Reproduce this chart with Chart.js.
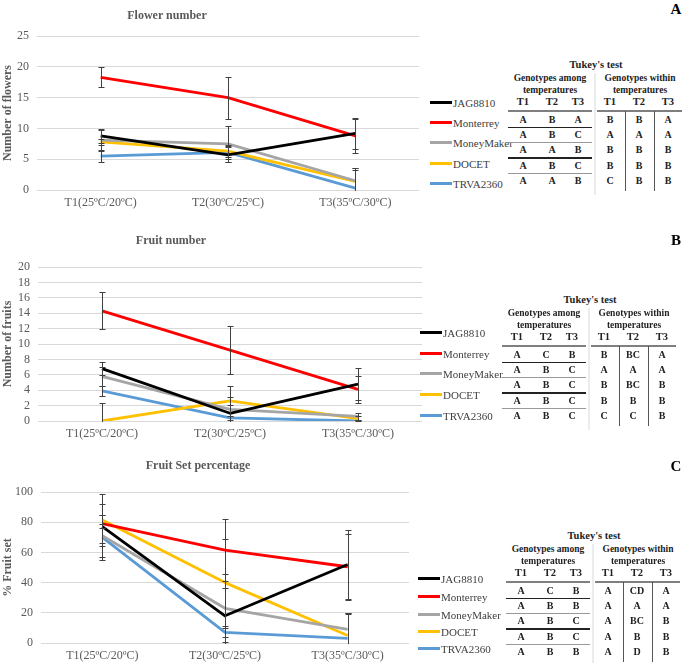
<!DOCTYPE html>
<html>
<head>
<meta charset="utf-8">
<script src="https://cdn.jsdelivr.net/npm/chart.js@4.4.1/dist/chart.umd.min.js"></script>
<style>
  body { margin: 0; background: #fff; width: 685px; height: 663px; position: relative; overflow: hidden; font-family: "Liberation Serif", serif; }
  canvas { position: absolute; left: 0; }
  .t { position: absolute; white-space: nowrap; line-height: 1; }
  .title { font-weight: bold; font-size: 12px; color: #595959; transform: translate(-50%, -50%); }
  .letter { font-weight: bold; font-size: 15px; color: #000; transform: translate(-50%, -50%); }
  .leg { font-size: 11px; color: #404040; transform: translateY(-50%); }
  .cell { font-weight: bold; font-size: 10px; color: #222; transform: translate(-50%, -50%); }
  .hd { font-weight: bold; font-size: 10.5px; color: #222; transform: translate(-50%, -50%); }
  .gh { font-weight: bold; font-size: 9.5px; color: #222; transform: translate(-50%, -50%); }
  .ln { position: absolute; }
</style>
</head>
<body>
<canvas id="flowerChart" width="425" height="215" style="top:0"></canvas>
<canvas id="fruitChart" width="425" height="220" style="top:225px"></canvas>
<canvas id="setChart" width="425" height="218" style="top:445px"></canvas>

<script>
const temps = ["T1(25ºC/20ºC)", "T2(30ºC/25ºC)", "T3(35ºC/30ºC)"];
const genotypes = ["JAG8810", "Monterrey", "MoneyMaker", "DOCET", "TRVA2360"];

// means per genotype (rows) and temperature (columns)
const flowerMeans = [[8.8, 5.7, 9.2], [18.3, 15.0, 8.8], [8.1, 7.5, 1.5], [7.8, 6.3, 1.4], [5.5, 6.1, 0.3]];
const flowerErr = [[1.1, 1.2, 2.5], [1.6, 3.4, 2.8], [1.6, 2.9, 2.0], [0.5, 1.0, 2.1], [0.9, 1.0, 3.0]];

const fruitMeans = [[6.8, 1.0, 4.8], [14.3, 9.2, 4.1], [5.8, 1.5, 0.6], [0.0, 2.6, 0.3], [3.9, 0.4, 0.0]];
const fruitErr = [[0.8, 1.1, 2.1], [2.4, 3.1, 1.7], [1.2, 1.6, 0.5], [2.3, 2.0, 0.3], [0.7, 0.3, 0.1]];

const setMeans = [[77, 18, 52], [79, 61.5, 50.5], [71, 23, 9], [81.5, 40, 5], [70, 7, 3]];
const setErr = [[22, 18.6, 23], [13, 20.5, 22], [14, 22.5, 11], [3, 29, 14], [6, 3, 17]];

// Tukey's test letters (rows = genotypes)
const flowerAmong = [["A", "B", "A"], ["A", "B", "C"], ["A", "A", "B"], ["A", "B", "C"], ["A", "A", "B"]];
const flowerWithin = [["B", "B", "A"], ["A", "A", "A"], ["B", "B", "B"], ["B", "B", "B"], ["C", "B", "B"]];
const fruitAmong = [["A", "C", "B"], ["A", "B", "C"], ["A", "B", "C"], ["A", "B", "C"], ["A", "B", "C"]];
const fruitWithin = [["B", "BC", "A"], ["A", "A", "A"], ["B", "BC", "B"], ["B", "B", "B"], ["C", "C", "B"]];
const setAmong = [["A", "C", "B"], ["A", "B", "B"], ["A", "B", "C"], ["A", "B", "C"], ["A", "B", "B"]];
const setWithin = [["A", "CD", "A"], ["A", "A", "A"], ["A", "BC", "B"], ["A", "B", "B"], ["A", "D", "B"]];

const colors = ["#000000", "#ff0000", "#a5a5a5", "#ffc000", "#5b9bd5"];

// draws the vertical error bars of every point
const errorBars = {
  id: "errorBars",
  afterDatasetsDraw(chart) {
    const { ctx, chartArea: a, scales: { y } } = chart;
    ctx.save();
    ctx.beginPath();
    ctx.rect(a.left, a.top - 1, a.right - a.left, a.bottom - a.top + 2);
    ctx.clip();
    ctx.strokeStyle = "#404040";
    ctx.lineWidth = 1;
    chart.data.datasets.forEach((ds, i) => {
      chart.getDatasetMeta(i).data.forEach((pt, j) => {
        const v = ds.data[j], e = ds.err[j];
        const x = Math.round(pt.x) + 0.5;
        const yt = Math.round(y.getPixelForValue(v + e)) + 0.5;
        const yb = Math.round(y.getPixelForValue(v - e)) + 0.5;
        ctx.beginPath();
        ctx.moveTo(x, yt); ctx.lineTo(x, yb);
        ctx.moveTo(x - 3, yt); ctx.lineTo(x + 3, yt);
        ctx.moveTo(x - 3, yb); ctx.lineTo(x + 3, yb);
        ctx.stroke();
      });
    });
    ctx.restore();
  }
};

function renderChart(id, means, errs, yMax, yStep, yTitle, pad, yWidth, xHeight) {
  new Chart(document.getElementById(id), {
    type: "line",
    data: {
      labels: temps,
      datasets: genotypes.map((g, i) => ({
        label: g,
        data: means[i],
        err: errs[i],
        borderColor: colors[i],
        backgroundColor: colors[i],
        borderWidth: 2.8,
        borderJoinStyle: "round",
        pointRadius: 0,
        tension: 0
      }))
    },
    options: {
      responsive: false,
      animation: false,
      devicePixelRatio: 1,
      layout: { padding: pad },
      plugins: { legend: { display: false }, tooltip: { enabled: false } },
      scales: {
        x: {
          offset: true,
          grid: { display: false, drawTicks: false },
          border: { display: false },
          ticks: { color: "#595959", font: { family: "Liberation Serif", size: 12 }, padding: 6, maxRotation: 0 },
          afterFit: s => { s.height = xHeight; }
        },
        y: {
          min: 0,
          max: yMax,
          ticks: { stepSize: yStep, autoSkip: false, color: "#595959", font: { family: "Liberation Serif", size: 12 }, padding: 8 },
          grid: { color: "#d9d9d9", drawTicks: false },
          border: { display: false },
          title: { display: true, text: yTitle, color: "#595959", font: { family: "Liberation Serif", size: 12, weight: "bold" }, padding: 1 },
          afterFit: s => { s.width = yWidth; }
        }
      }
    },
    plugins: [errorBars]
  });
}

renderChart("flowerChart", flowerMeans, flowerErr, 25, 5, "Number of flowers", { top: 36, right: 6, bottom: 0, left: 0 }, 37, 25);
renderChart("fruitChart", fruitMeans, fruitErr, 20, 2, "Number of fruits", { top: 42, right: 3, bottom: 0, left: 0 }, 38, 24);
renderChart("setChart", setMeans, setErr, 100, 20, "% Fruit set", { top: 47, right: 16, bottom: 0, left: 0 }, 41, 20);

function addText(cls, text, x, y) {
  const d = document.createElement("div");
  d.className = "t " + cls;
  d.textContent = text;
  d.style.left = x + "px";
  d.style.top = y + "px";
  document.body.appendChild(d);
}
function addLine(x, y, w, h, color) {
  const d = document.createElement("div");
  d.className = "ln";
  Object.assign(d.style, { left: x + "px", top: y + "px", width: w + "px", height: h + "px", background: color });
  document.body.appendChild(d);
}

function addLegend(x, ys) {
  genotypes.forEach((g, i) => {
    addLine(x, ys[i] - 1.5, 22, 3, colors[i]);
    addText("leg", g, x + 23, ys[i] + 1);
  });
}

function addTable(ox, oy, among, within) {
  addText("hd", "Tukey's test", ox + 1, oy);
  addText("gh", "Genotypes among", ox - 45, oy + 14);
  addText("gh", "temperatures", ox - 45, oy + 26);
  addText("gh", "Genotypes within", ox + 45, oy + 14);
  addText("gh", "temperatures", ox + 45, oy + 26);
  const aX = [ox - 72, ox - 43, ox - 17], wX = [ox + 15, ox + 44, ox + 73];
  ["T1", "T2", "T3"].forEach((t, k) => {
    addText("hd", t, aX[k], oy + 37);
    addText("hd", t, wX[k], oy + 37);
  });
  const head = oy + 46;
  addLine(ox - 1, oy + 8, 2, head + 84 - oy - 8, "#ececec");
  addLine(ox - 87, head - 1, 84, 2, "#7f7f7f");
  addLine(ox + 2, head - 1, 85, 2, "#7f7f7f");
  addLine(ox + 30, head, 1, 80, "#555");
  addLine(ox + 59, head, 1, 80, "#555");
  const sepColors = ["#222", "#999", "#222", "#999"];
  for (let r = 0; r < 5; r++) {
    const ry = oy + 55 + r * 15.2;
    for (let k = 0; k < 3; k++) {
      addText("cell", among[r][k], aX[k], ry);
      addText("cell", within[r][k], wX[k], ry);
    }
    if (r < 4) addLine(ox - 87, ry + 7, 84, 1.3, sepColors[r]);
  }
}

addText("title", "Flower number", 167, 15);
addText("title", "Fruit number", 171, 240);
addText("title", "Fruit Set percentage", 198, 465);

addText("letter", "A", 676, 9);
addText("letter", "B", 676, 240);
addText("letter", "C", 676, 466);

addLegend(430, [102, 122, 142, 163, 183]);
addLegend(420, [332, 353, 373, 394, 415]);
addLegend(418, [578, 596, 614, 631, 648]);

addTable(595, 65, flowerAmong, flowerWithin);
addTable(589, 300, fruitAmong, fruitWithin);
addTable(593, 536, setAmong, setWithin);
</script>
</body>
</html>
